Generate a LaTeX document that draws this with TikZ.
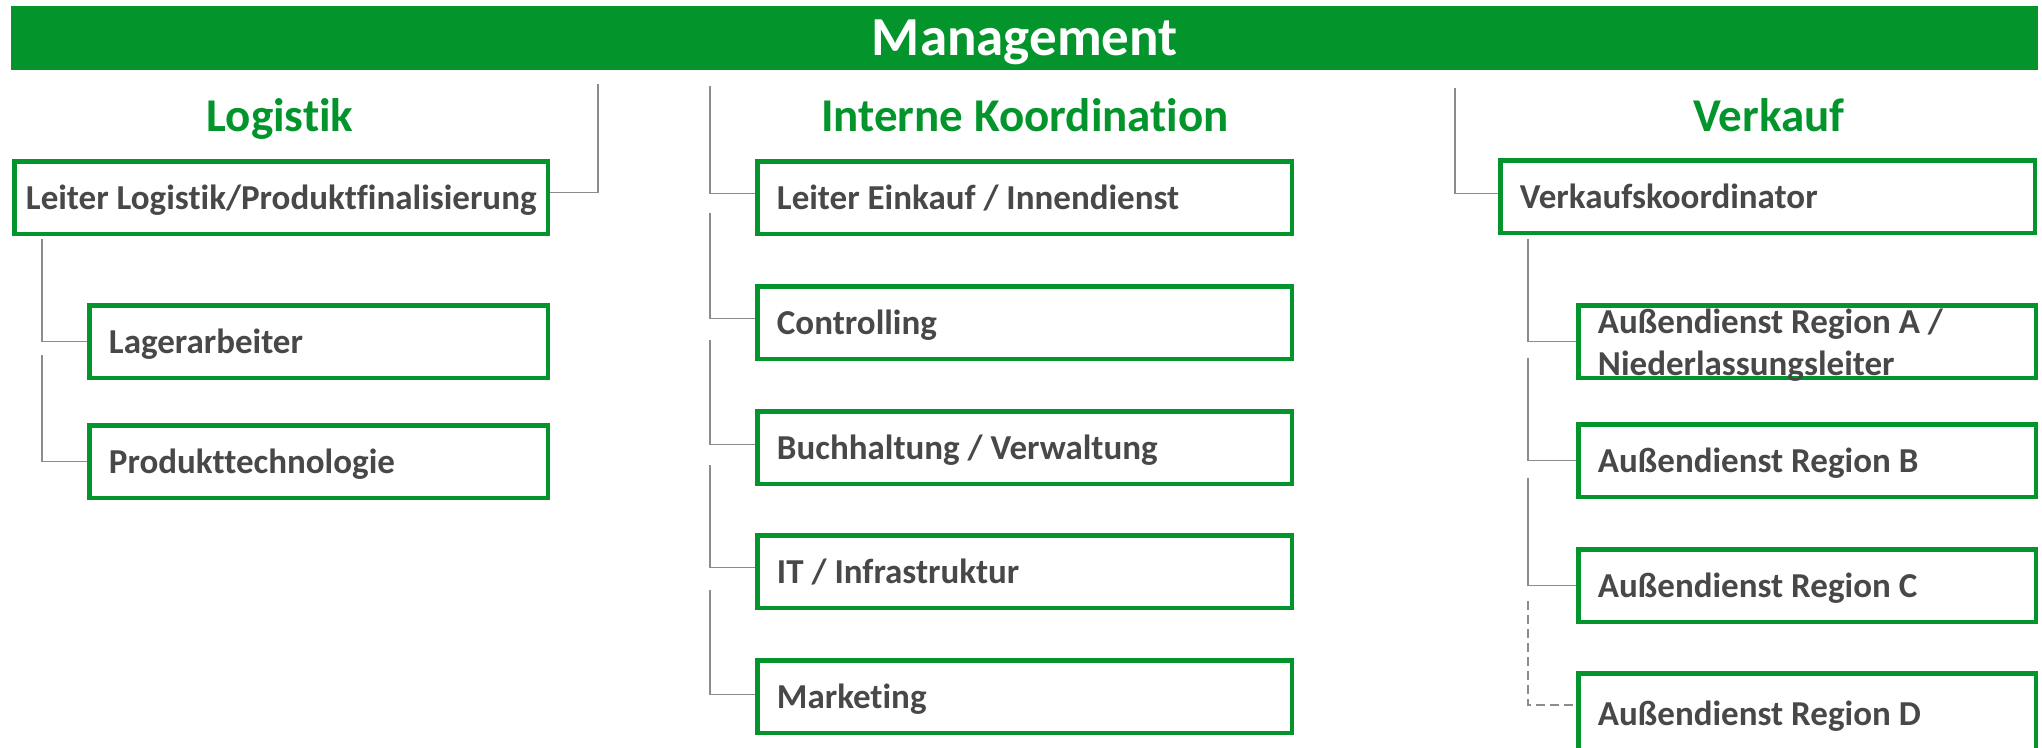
\documentclass[tikz,border=0pt]{standalone}
\usepackage{fontspec}
\setmainfont{Carlito}[RawFeature={-liga}]
\usetikzlibrary{calc}
\definecolor{mgreen}{RGB}{3,149,44}
\definecolor{lgray}{RGB}{140,140,140}
\definecolor{tgray}{RGB}{72,72,72}
\begin{document}
\begin{tikzpicture}[x=1pt,y=-1pt,
  box/.style={draw=mgreen, line width=4.5pt, fill=white, minimum height=72.5pt, inner sep=0pt, outer sep=0pt, anchor=north west},
  lbl/.style={anchor=base west, text=tgray, font=\fontsize{35}{42}\selectfont\bfseries, inner sep=0pt},
  ttl/.style={anchor=base, text=mgreen, font=\fontsize{47}{56}\selectfont\bfseries, inner sep=0pt},
  conn/.style={draw=lgray, line width=1.9pt},
  dconn/.style={conn, dash pattern=on 9pt off 5pt},
  ]
\clip (0,0) rectangle (2042,747);
\fill[white] (0,0) rectangle (2042,747);

% title bar
\node[fill=mgreen, anchor=north west, minimum width=2027pt, minimum height=64pt, inner sep=0pt,
      text=white, font=\fontsize{55}{66}\selectfont\bfseries, text height=34pt, text depth=0pt] (mgmt) at (11,6) {Management};

% section titles
\node[ttl] (tlog) at (280,131) {Logistik};
\node[ttl] (tik)  at (1025,131) {Interne Koordination};
\node[ttl] (tvk)  at (1769,131) {Verkauf};

% Logistik boxes
\node[box, minimum width=533.5pt] (L0) at (14.25,161.25) {};
\node[box, minimum width=458.5pt] (L1) at (89.25,305.25) {};
\node[box, minimum width=458.5pt] (L2) at (89.25,425.25) {};
\node[lbl] (tL0) at ($(L0.west)+(11.5,12)$) {Leiter Logistik/Produktfinalisierung};
\node[lbl] (tL1) at ($(L1.west)+(19.5,12)$) {Lagerarbeiter};
\node[lbl] (tL2) at ($(L2.west)+(19.5,12)$) {Produkttechnologie};

% Interne Koordination boxes
\node[box, minimum width=534.5pt] (I0) at (757.25,161.25) {};
\node[box, minimum width=534.5pt] (I1) at (757.25,286.25) {};
\node[box, minimum width=534.5pt] (I2) at (757.25,411.25) {};
\node[box, minimum width=534.5pt] (I3) at (757.25,535.25) {};
\node[box, minimum width=534.5pt] (I4) at (757.25,660.25) {};
\node[lbl] (tI0) at ($(I0.west)+(19.5,12)$) {Leiter Einkauf / Innendienst};
\node[lbl] (tI1) at ($(I1.west)+(19.5,12)$) {Controlling};
\node[lbl] (tI2) at ($(I2.west)+(19.5,12)$) {Buchhaltung / Verwaltung};
\node[lbl] (tI3) at ($(I3.west)+(19.5,12)$) {IT / Infrastruktur};
\node[lbl] (tI4) at ($(I4.west)+(19.5,12)$) {Marketing};

% Verkauf boxes
\node[box, minimum width=534.5pt] (V0) at (1500.25,160.25) {};
\node[box, minimum width=457.5pt] (V1) at (1578.25,305.25) {};
\node[box, minimum width=457.5pt] (V2) at (1578.25,424.25) {};
\node[box, minimum width=457.5pt] (V3) at (1578.25,549.25) {};
\node[box, minimum width=457.5pt, minimum height=90pt] (V4) at (1578.25,673.25) {};
\node[lbl] (tV0) at ($(V0.west)+(19.5,12)$) {Verkaufskoordinator};
\node[lbl] (tV1a) at ($(V1.north west)+(19.5,28)$) {Außendienst Region A /};
\node[lbl] (tV1b) at ($(V1.north west)+(19.5,70)$) {Niederlassungsleiter};
\node[lbl] (tV2) at ($(V2.west)+(19.5,12)$) {Außendienst Region B};
\node[lbl] (tV3) at ($(V3.west)+(19.5,12)$) {Außendienst Region C};
\node[lbl] (tV4) at ($(V4.north west)+(19.5,52)$) {Außendienst Region D};

% connector start points
\coordinate (cL0) at (598,84);
\coordinate (cL1) at (42,239);
\coordinate (cL2) at (42,355);
\coordinate (cI0) at (710,86);
\coordinate (cI1) at (710,213);
\coordinate (cI2) at (710,340);
\coordinate (cI3) at (710,465);
\coordinate (cI4) at (710,590);
\coordinate (cV0) at (1455,88);
\coordinate (cV1) at (1528,239);
\coordinate (cV2) at (1528,358);
\coordinate (cV3) at (1528,478);
\coordinate (cV4) at (1528,601);

% connectors
\draw[conn, shorten >=2pt] (cL0) |- ([yshift=5pt]L0.east);
\draw[conn, shorten >=2pt] (cL1) |- (L1.west);
\draw[conn, shorten >=2pt] (cL2) |- (L2.west);
\draw[conn, shorten >=2pt] (cI0) |- ([yshift=4pt]I0.west);
\draw[conn, shorten >=2pt] (cI1) |- ([yshift=4pt]I1.west);
\draw[conn, shorten >=2pt] (cI2) |- ([yshift=3pt]I2.west);
\draw[conn, shorten >=2pt] (cI3) |- ([yshift=4pt]I3.west);
\draw[conn, shorten >=2pt] (cI4) |- ([yshift=2pt]I4.west);
\draw[conn, shorten >=2pt] (cV0) |- ([yshift=3pt]V0.west);
\draw[conn, shorten >=2pt] (cV1) |- (V1.west);
\draw[conn, shorten >=2pt] (cV2) |- (V2.west);
\draw[conn, shorten >=2pt] (cV3) |- (V3.west);
\draw[dconn, shorten >=2pt] (cV4) |- ([yshift=13pt]V4.west);
\end{tikzpicture}
\end{document}
